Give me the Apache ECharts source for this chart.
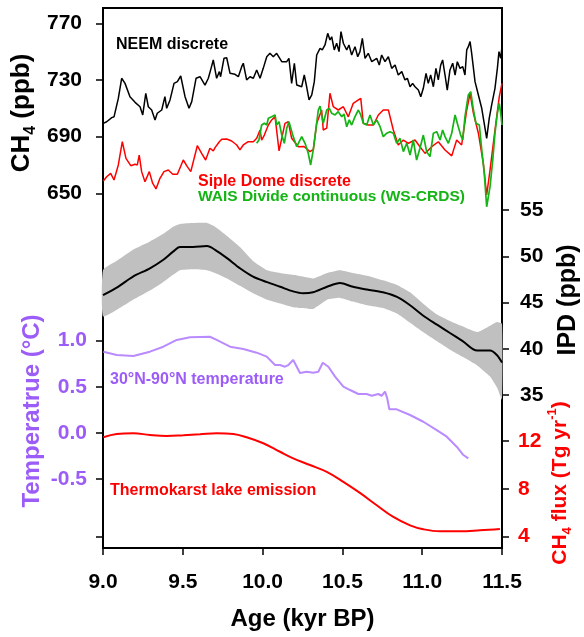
<!DOCTYPE html>
<html>
<head>
<meta charset="utf-8">
<script src="https://cdn.jsdelivr.net/npm/echarts@6/dist/echarts.min.js"></script>
<style>
  html, body { margin: 0; padding: 0; background: #fff; }
  #chart { width: 584px; height: 637px; }
</style>
</head>
<body>
<div id="chart"></div>
<script>
// ---- NEEM discrete CH4 (ppb) ----
const neemAge = [9.002,9.023,9.055,9.069,9.096,9.117,9.138,9.169,9.201,9.232,9.249,9.268,9.284,9.305,9.326,9.340,9.368,9.388,9.399,9.420,9.445,9.466,9.487,9.514,9.539,9.556,9.583,9.608,9.639,9.660,9.677,9.691,9.712,9.729,9.737,9.758,9.775,9.796,9.827,9.848,9.869,9.879,9.900,9.921,9.942,9.963,9.984,10.004,10.026,10.046,10.067,10.088,10.120,10.151,10.165,10.182,10.199,10.214,10.245,10.261,10.276,10.291,10.308,10.324,10.339,10.360,10.374,10.391,10.408,10.422,10.433,10.449,10.464,10.479,10.491,10.506,10.527,10.541,10.558,10.579,10.596,10.610,10.625,10.642,10.662,10.684,10.694,10.715,10.731,10.746,10.767,10.788,10.809,10.830,10.850,10.872,10.892,10.907,10.924,10.940,10.955,10.976,10.991,11.007,11.024,11.038,11.053,11.070,11.086,11.101,11.116,11.128,11.143,11.157,11.174,11.191,11.206,11.220,11.237,11.254,11.268,11.279,11.289,11.300,11.310,11.331,11.352,11.373,11.387,11.404,11.420,11.435,11.456,11.471,11.481,11.492,11.500];
const neemCH4 = [699.4,700.5,703.4,704,717,731.2,727.6,718.2,714.2,711.1,705.3,720.6,711.1,708.8,701.7,706.5,708.8,718.2,710,715.9,727.6,728.8,732.8,718.2,710,714.7,731.2,732.3,726.4,731.2,738.2,744.1,731.2,735.9,732.3,745.3,745.7,734.7,734,732.3,739.4,741.8,730,732.3,731.2,737.1,731.2,738.2,746.4,748.8,746.4,748.8,742.9,742.9,745.3,727.6,741.8,726.4,725.2,733.5,725.2,715.9,719.4,728.8,747.6,752.3,751.2,754.7,762.9,758.2,760.5,751.2,755.9,750,764.1,755.9,751.2,754.7,747.6,753.5,746.4,750,759.4,745.3,748.8,742.9,742.9,745.3,740.6,747.6,742.9,746.4,738.2,740.6,733.5,735.9,730,731.2,725.2,727.6,725.2,722.9,718.2,724.1,734.7,727.6,733.5,725.2,738.2,730,740.6,744.1,733.5,722.9,737.1,741.8,733.5,742.9,738.2,739.4,733.5,751.2,753.5,757.1,748.8,728.8,719.4,710,700.5,688.8,702.9,712.3,724.1,738.2,750,745.3,753.5];

// ---- Siple Dome discrete CH4 (ppb) ----
const sipleAge = [9.002,9.023,9.048,9.069,9.096,9.121,9.144,9.174,9.201,9.215,9.227,9.242,9.263,9.290,9.311,9.332,9.357,9.382,9.409,9.437,9.466,9.503,9.528,9.550,9.591,9.618,9.643,9.670,9.691,9.702,9.729,9.744,9.775,9.806,9.838,9.858,9.879,9.910,9.942,9.963,9.984,9.994,10.011,10.036,10.057,10.078,10.103,10.120,10.140,10.161,10.182,10.224,10.259,10.297,10.318,10.339,10.370,10.380,10.402,10.422,10.443,10.474,10.506,10.537,10.568,10.600,10.615,10.631,10.662,10.694,10.725,10.756,10.788,10.819,10.850,10.882,10.913,10.955,10.986,11.018,11.060,11.101,11.143,11.185,11.216,11.247,11.279,11.300,11.321,11.352,11.383,11.404,11.425,11.456,11.483,11.500];
const sipleCH4 = [658.7,661.7,664.1,659.4,670,686.4,674.7,669.5,670.5,670,677,665.3,658.2,665.3,657.1,653.1,660.6,665.3,666.4,663.4,663.4,673.5,668.8,665.3,683.6,678.2,673.5,681.8,679.9,682.2,686.4,688.1,688.3,686.9,684.1,680.6,684.1,686.4,686.4,688.8,694.7,687.6,691.1,698.2,701.8,704.1,679.9,688.8,699.4,700.5,688.8,682.9,683,679.4,681,699.4,708.8,694.7,696,720.6,711.1,708.8,711.1,704,713.5,715.9,717,699.4,698.2,698.2,705.3,708.8,708.8,694.7,684.1,687.6,685.3,687.6,682.9,678.2,682.9,686.4,680.6,676.4,687.6,684.1,708.8,720.6,706.5,692.4,671.2,648.8,666.4,694.7,718.2,727.6];

// ---- WAIS Divide continuous CH4 (ppb) ----
const waisAge = [9.963,9.977,9.994,10.011,10.026,10.036,10.057,10.078,10.088,10.103,10.120,10.136,10.151,10.165,10.192,10.214,10.245,10.266,10.286,10.301,10.318,10.349,10.360,10.380,10.402,10.418,10.433,10.454,10.474,10.496,10.510,10.527,10.543,10.558,10.579,10.600,10.615,10.631,10.652,10.673,10.694,10.715,10.736,10.756,10.778,10.798,10.819,10.840,10.861,10.882,10.903,10.924,10.944,10.965,10.986,11.007,11.028,11.049,11.070,11.091,11.112,11.128,11.143,11.164,11.185,11.206,11.226,11.241,11.254,11.268,11.289,11.304,11.321,11.337,11.358,11.373,11.389,11.404,11.425,11.442,11.456,11.471,11.483,11.492,11.500];
const waisCH4 = [685.3,687.6,698.2,699.4,698.2,703,704.1,705.3,698.2,700.5,691.1,685.3,695.9,700.5,690,682.9,690,685.3,678.2,670,681,708.8,711.6,699.4,708.8,710,706.5,705.3,707.6,704.1,706,697,701.8,698.2,704.1,708.8,705.3,699.4,698.2,705.3,698.2,701.8,697,690,692.4,693.5,692.4,685.3,688.8,679.4,685.3,677,687.6,673.5,681.8,691.1,679.4,675.9,692.4,693.5,687.6,694.7,690,685.3,692.4,705.3,697,691.1,687.6,704.1,719.4,721.7,708.8,699.4,698.2,680.6,664.1,640.5,654.7,673.5,692.4,706.5,713.5,706.5,698.2];

// ---- IPD (ppb): mean with uncertainty envelope ----
const ipdAge   = [9.000,9.094,9.188,9.294,9.376,9.439,9.482,9.564,9.652,9.702,9.777,9.858,9.940,10.028,10.110,10.191,10.253,10.316,10.404,10.485,10.566,10.654,10.754,10.842,10.924,11.005,11.093,11.174,11.256,11.344,11.425,11.469,11.500];
const ipdMean  = [45.8,46.7,47.8,48.7,49.6,50.5,51.0,51.0,51.1,50.7,49.8,48.7,47.8,47.2,46.7,46.2,46.0,46.1,46.7,47.1,46.7,46.4,46.1,45.6,44.7,43.6,42.6,41.7,40.8,39.8,39.8,39.3,38.5];
const ipdUpper = [48.5,49.6,50.7,51.6,52.4,53.2,53.5,53.6,53.6,53.2,52.2,51.0,49.5,48.5,48.2,48.0,47.8,47.6,48.2,48.5,48.2,47.9,47.4,46.9,46.1,44.9,43.7,43.0,42.4,41.8,42.5,42.9,42.7];
const ipdLower = [43.5,44.3,45.3,46.3,47.2,48.0,48.5,48.6,48.5,48.2,47.6,46.8,46.0,45.3,44.9,44.5,44.4,44.3,45.3,45.5,45.1,44.7,44.4,43.8,42.8,41.8,40.8,39.9,39.1,38.2,37.0,35.8,34.5];

// ---- 30°N-90°N temperature anomaly (°C) ----
const tempAge = [9.002,9.086,9.190,9.294,9.378,9.462,9.545,9.670,9.712,9.796,9.879,9.963,10.026,10.078,10.109,10.140,10.161,10.192,10.214,10.234,10.276,10.318,10.349,10.377,10.412,10.454,10.506,10.548,10.600,10.652,10.684,10.725,10.746,10.767,10.781,10.794,10.840,10.924,11.007,11.091,11.154,11.216,11.258,11.289];
const tempVal = [0.881,0.845,0.834,0.881,0.935,1.008,1.037,1.043,1.008,0.935,0.910,0.870,0.827,0.736,0.736,0.718,0.736,0.791,0.718,0.650,0.664,0.653,0.664,0.761,0.718,0.610,0.501,0.465,0.422,0.422,0.403,0.422,0.403,0.447,0.375,0.256,0.256,0.194,0.121,0.031,-0.041,-0.150,-0.240,-0.276];

// ---- Thermokarst lake CH4 flux (Tg yr-1) ----
const fluxAge = [9.002,9.086,9.190,9.294,9.399,9.503,9.608,9.712,9.816,9.900,10.004,10.109,10.192,10.297,10.402,10.506,10.610,10.715,10.819,10.924,11.007,11.112,11.237,11.362,11.487];
const fluxVal = [12.31,12.59,12.65,12.50,12.42,12.48,12.56,12.65,12.59,12.31,11.81,11.10,10.55,9.99,9.42,8.59,7.66,6.63,5.65,4.95,4.62,4.45,4.45,4.53,4.64];

const zip = (xs, ys) => xs.map((x, i) => [x, ys[i]]);

const FONT = '"Liberation Sans", Arial, sans-serif';
const PURPLE_TXT = '#9c5cf7';
const PURPLE_LINE = '#b98bff';
const RED = '#ff0000';
const GREEN = '#14b414';

const L = 103, R = 82;
const tickStyle = (c) => ({ show: true, length: 7, lineStyle: { color: c || '#000', width: 1.5 } });
const labelStyle = (c, margin, fmt) => ({
  color: c, fontFamily: FONT, fontWeight: 'bold', fontSize: 21, margin: margin,
  formatter: fmt
});
const hiddenX = (g) => ({ gridIndex: g, type: 'value', min: 9, max: 11.5, show: false });

// shaded IPD envelope: one closed polygon through the upper bound and back along the lower bound
function renderIpdBand(params, api) {
  if (params.dataIndex !== 0) return;
  const top = ipdAge.map((a, i) => api.coord([a, ipdUpper[i]]));
  const bottom = ipdAge.map((a, i) => api.coord([a, ipdLower[i]])).reverse();
  return {
    type: 'polygon',
    shape: { points: top.concat(bottom), smooth: 0.15 },
    style: { fill: '#c0c0c0' }
  };
}

const chart = echarts.init(document.getElementById('chart'), null, { renderer: 'canvas' });

chart.setOption({
  animation: false,
  backgroundColor: '#fff',
  grid: [
    { left: L, right: R, top: 8, bottom: 89, show: true, borderColor: '#000', borderWidth: 2 },
    { left: L, right: R, top: 23.3, height: 170 },
    { left: L, right: R, top: 210, height: 185 },
    { left: L, right: R, top: 340.7, height: 138.3 },
    { left: L, right: R, top: 441, height: 95.7 }
  ],
  xAxis: [
    {
      gridIndex: 0, type: 'value', min: 9, max: 11.5, interval: 0.5,
      axisLine: { lineStyle: { color: '#000', width: 2 } },
      axisTick: tickStyle(),
      axisLabel: labelStyle('#000', 24, v => v.toFixed(1)),
      splitLine: { show: false },
      name: 'Age (kyr BP)', nameLocation: 'middle', nameGap: 59,
      nameTextStyle: { color: '#000', fontFamily: FONT, fontWeight: 'bold', fontSize: 24 }
    },
    hiddenX(1), hiddenX(2), hiddenX(3), hiddenX(4)
  ],
  yAxis: [
    { gridIndex: 0, type: 'value', min: 0, max: 1, show: false },
    {
      gridIndex: 1, type: 'value', position: 'left', min: 650, max: 770, interval: 40,
      axisLine: { show: false }, axisTick: tickStyle(), splitLine: { show: false },
      axisLabel: labelStyle('#000', 21)
    },
    {
      gridIndex: 2, type: 'value', position: 'right', min: 35, max: 55, interval: 5,
      axisLine: { show: false }, axisTick: tickStyle(), splitLine: { show: false },
      axisLabel: labelStyle('#000', 18)
    },
    {
      gridIndex: 3, type: 'value', position: 'left', min: -0.5, max: 1.0, interval: 0.5,
      axisLine: { show: false }, axisTick: tickStyle(), splitLine: { show: false },
      axisLabel: labelStyle(PURPLE_TXT, 16, v => v.toFixed(1))
    },
    {
      gridIndex: 4, type: 'value', position: 'right', min: 4, max: 12, interval: 4,
      axisLine: { show: false }, axisTick: tickStyle(), splitLine: { show: false },
      axisLabel: labelStyle(RED, 16)
    },
    {
      gridIndex: 4, type: 'value', position: 'left', min: 4, max: 12,
      axisLine: { show: false }, splitLine: { show: false },
      axisTick: Object.assign(tickStyle(), { customValues: [4] }),
      axisLabel: { show: false }
    }
  ],
  series: [
    {
      name: 'NEEM discrete', type: 'line', xAxisIndex: 1, yAxisIndex: 1,
      data: zip(neemAge, neemCH4), showSymbol: false, clip: false,
      lineStyle: { color: '#000', width: 1.5 }
    },
    {
      name: 'Siple Dome discrete', type: 'line', xAxisIndex: 1, yAxisIndex: 1,
      data: zip(sipleAge, sipleCH4), showSymbol: false, clip: false,
      lineStyle: { color: RED, width: 1.5 }
    },
    {
      name: 'WAIS Divide continuous (WS-CRDS)', type: 'line', xAxisIndex: 1, yAxisIndex: 1,
      data: zip(waisAge, waisCH4), showSymbol: false, clip: false,
      lineStyle: { color: GREEN, width: 1.7 }
    },
    {
      name: 'IPD range', type: 'custom', coordinateSystem: 'cartesian2d',
      xAxisIndex: 2, yAxisIndex: 2, clip: false,
      data: ipdAge.map((a, i) => [a, ipdLower[i], ipdUpper[i]]),
      encode: { x: 0, y: [1, 2] },
      renderItem: renderIpdBand,
      silent: true
    },
    {
      name: 'IPD', type: 'line', xAxisIndex: 2, yAxisIndex: 2,
      data: zip(ipdAge, ipdMean), showSymbol: false, clip: false, smooth: 0.3,
      lineStyle: { color: '#000', width: 2 }
    },
    {
      name: '30°N-90°N temperature', type: 'line', xAxisIndex: 3, yAxisIndex: 3,
      data: zip(tempAge, tempVal), showSymbol: false, clip: false,
      lineStyle: { color: PURPLE_LINE, width: 2 }
    },
    {
      name: 'Thermokarst lake emission', type: 'line', xAxisIndex: 4, yAxisIndex: 4,
      data: zip(fluxAge, fluxVal), showSymbol: false, clip: false, smooth: 0.4,
      lineStyle: { color: RED, width: 2 }
    }
  ],
  graphic: [
    // axis titles
    {
      type: 'text', x: 22, y: 113, rotation: Math.PI / 2,
      style: {
        text: '{a|CH}{s|4}{a| (ppb)}', align: 'center', verticalAlign: 'middle',
        rich: {
          a: { fontFamily: FONT, fontWeight: 'bold', fontSize: 26, lineHeight: 34, fill: '#000' },
          s: { fontFamily: FONT, fontWeight: 'bold', fontSize: 16, lineHeight: 16, verticalAlign: 'bottom', fill: '#000' }
        }
      }
    },
    {
      type: 'text', x: 32, y: 411, rotation: Math.PI / 2,
      style: {
        text: 'Temperatrue (°C)', align: 'center', verticalAlign: 'middle',
        fontFamily: FONT, fontWeight: 'bold', fontSize: 24, fill: PURPLE_TXT
      }
    },
    {
      type: 'text', x: 568, y: 300, rotation: Math.PI / 2,
      style: {
        text: 'IPD (ppb)', align: 'center', verticalAlign: 'middle',
        fontFamily: FONT, fontWeight: 'bold', fontSize: 25, fill: '#000'
      }
    },
    {
      type: 'text', x: 560, y: 483, rotation: Math.PI / 2,
      style: {
        text: '{a|CH}{s|4}{a| flux (Tg yr}{p|-1}{a|)}', align: 'center', verticalAlign: 'middle',
        rich: {
          a: { fontFamily: FONT, fontWeight: 'bold', fontSize: 21, lineHeight: 28, fill: RED },
          s: { fontFamily: FONT, fontWeight: 'bold', fontSize: 13, lineHeight: 13, verticalAlign: 'bottom', fill: RED },
          p: { fontFamily: FONT, fontWeight: 'bold', fontSize: 13, lineHeight: 13, verticalAlign: 'top', fill: RED }
        }
      }
    },
    // series annotations
    { type: 'text', x: 116, y: 45, style: { text: 'NEEM discrete', verticalAlign: 'middle', fontFamily: FONT, fontWeight: 'bold', fontSize: 16, fill: '#000' } },
    { type: 'text', x: 198, y: 182, style: { text: 'Siple Dome discrete', verticalAlign: 'middle', fontFamily: FONT, fontWeight: 'bold', fontSize: 16, fill: RED } },
    { type: 'text', x: 198, y: 197, style: { text: 'WAIS Divide continuous (WS-CRDS)', verticalAlign: 'middle', fontFamily: FONT, fontWeight: 'bold', fontSize: 15.5, fill: GREEN } },
    { type: 'text', x: 110, y: 380, style: { text: '30°N-90°N temperature', verticalAlign: 'middle', fontFamily: FONT, fontWeight: 'bold', fontSize: 16, fill: PURPLE_TXT } },
    { type: 'text', x: 110, y: 491, style: { text: 'Thermokarst lake emission', verticalAlign: 'middle', fontFamily: FONT, fontWeight: 'bold', fontSize: 16, fill: RED } }
  ]
});
</script>
</body>
</html>
